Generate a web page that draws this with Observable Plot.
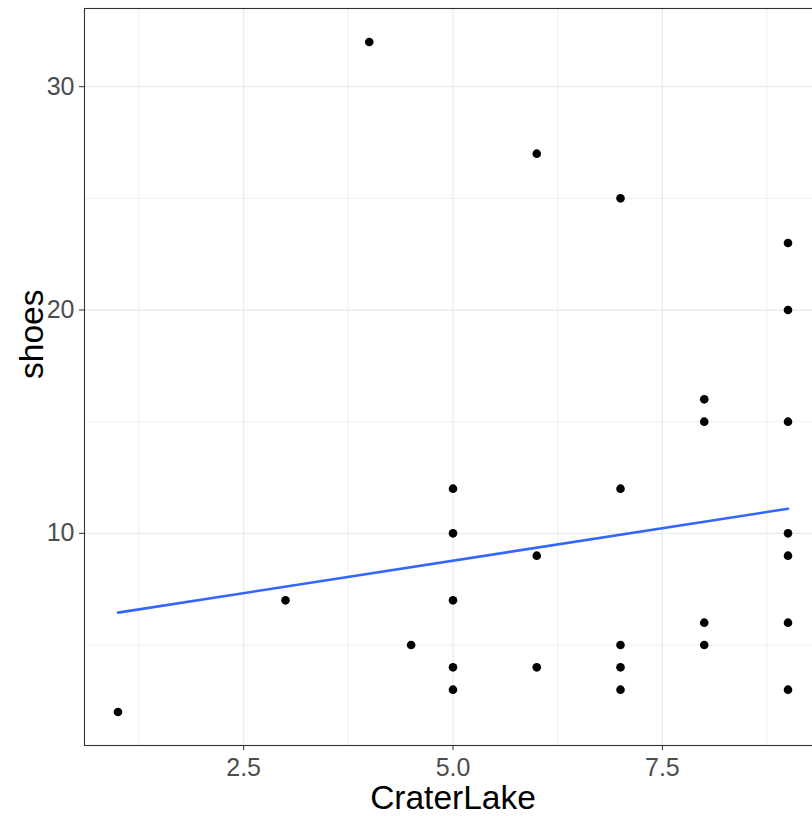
<!DOCTYPE html>
<html>
<head>
<meta charset="utf-8">
<script src="https://cdn.jsdelivr.net/npm/d3@7"></script>
<script src="https://cdn.jsdelivr.net/npm/@observablehq/plot@0.6"></script>
<style>
  html, body { margin: 0; padding: 0; overflow: hidden; background: #fff; }
  #chart svg { display: block; max-width: none !important; width: 821px !important; height: 816px !important; }
</style>
</head>
<body>
<div id="chart"></div>
<script>
// Observations (CraterLake vs shoes)
const craterLake = [1, 3, 4, 4.5, 5, 5, 5, 5, 5, 6, 6, 6, 7, 7, 7, 7, 7, 8, 8, 8, 8, 9, 9, 9, 9, 9, 9, 9];
const shoes      = [2, 7, 32, 5, 12, 10, 7, 4, 3, 27, 9, 4, 25, 12, 5, 4, 3, 16, 15, 6, 5, 23, 20, 15, 10, 9, 6, 3];

// Fitted linear trend (endpoints)
const fitX = [1, 9];
const fitY = [6.45, 11.1];

// Axis ticks
const xTicks = [2.5, 5.0, 7.5];
const xMinor = [1.25, 3.75, 6.25, 8.75];
const yTicks = [10, 20, 30];
const yMinor = [5, 15, 25];

const points = craterLake.map((x, i) => ({x, y: shoes[i]}));
const fit = fitX.map((x, i) => ({x, y: fitY[i]}));

const chart = Plot.plot({
  width: 821,
  height: 816,
  marginLeft: 84,
  marginRight: 0,
  marginTop: 8,
  marginBottom: 71,
  style: {fontFamily: "'Liberation Sans', Arial, sans-serif", background: "#fff"},
  x: {domain: [0.6, 9.4]},
  y: {domain: [0.5, 33.5]},
  marks: [
    Plot.ruleX(xMinor, {stroke: "#EBEBEB", strokeWidth: 0.8}),
    Plot.ruleY(yMinor, {stroke: "#EBEBEB", strokeWidth: 0.8}),
    Plot.ruleX(xTicks, {stroke: "#EBEBEB", strokeWidth: 1.3}),
    Plot.ruleY(yTicks, {stroke: "#EBEBEB", strokeWidth: 1.3}),
    Plot.dot(points, {x: "x", y: "y", r: 4.3, fill: "black", stroke: "none"}),
    Plot.line(fit, {x: "x", y: "y", stroke: "#3366FF", strokeWidth: 2.6}),
    Plot.frame({stroke: "#333333", strokeWidth: 1.1}),
    Plot.axisX(xTicks, {
      tickSize: 5, tickPadding: 8, tickFormat: d3.format(".1f"),
      stroke: "#333333", fill: "#4D4D4D", fontSize: 25, label: null
    }),
    Plot.axisY(yTicks, {
      tickSize: 5, tickPadding: 5, tickFormat: d3.format("d"),
      stroke: "#333333", fill: "#4D4D4D", fontSize: 25, label: null
    }),
    Plot.text(["CraterLake"], {
      frameAnchor: "bottom", lineAnchor: "bottom", dy: 63.5,
      fontSize: 33.5, fill: "black", text: d => d
    }),
    Plot.text(["shoes"], {
      frameAnchor: "left", lineAnchor: "bottom", rotate: -90, dx: -42, dy: 2,
      fontSize: 33.5, fill: "black", text: d => d
    })
  ]
});
document.getElementById("chart").appendChild(chart);
</script>
</body>
</html>
